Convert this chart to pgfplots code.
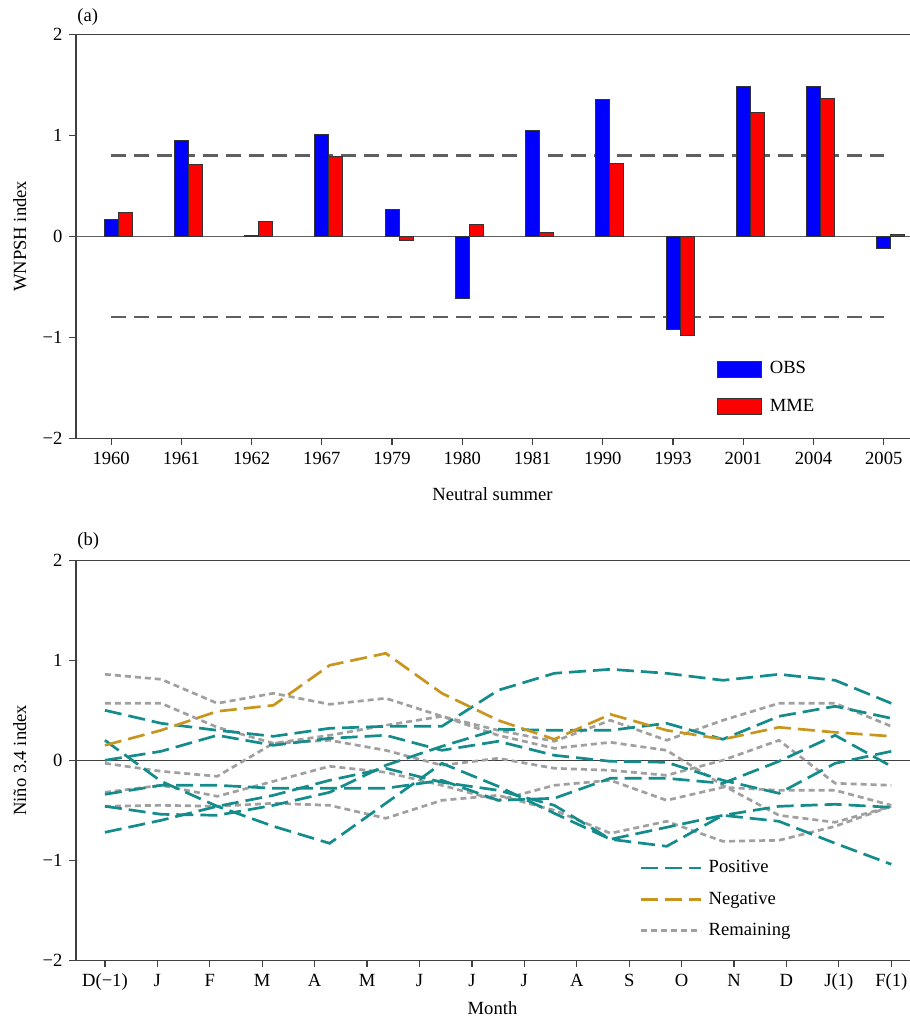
\documentclass[border=0pt]{standalone}
\usepackage{fontspec}
\setmainfont{Liberation Serif}
\usepackage{pgfplots}
\usepackage{pgfplotstable}
\pgfplotsset{compat=1.18}
\definecolor{obsblue}{RGB}{0,0,255}
\definecolor{mmered}{RGB}{255,0,0}
\definecolor{tealc}{RGB}{20,140,140}
\definecolor{goldc}{RGB}{200,150,30}
\definecolor{grayc}{RGB}{160,160,160}
\definecolor{refc}{RGB}{95,95,95}

\pgfplotstableread{
x       t1    t2    t3    t4    t5    t6    g1    g2    g3    g4    g5    n
0       0.50  0.00 -0.46 -0.34  0.20 -0.72  0.86  0.57 -0.03 -0.32 -0.46  0.15
1.0714  0.37  0.09 -0.54 -0.25 -0.21 -0.60  0.81  0.57 -0.11 -0.25 -0.45  0.30
2.1429  0.30  0.25 -0.55 -0.25 -0.46 -0.46  0.57  0.33 -0.16 -0.36 -0.46  0.49
3.2143  0.24  0.15 -0.45 -0.28 -0.66 -0.35  0.67  0.17  0.17 -0.21 -0.43  0.55
4.2857  0.32  0.22 -0.32 -0.28 -0.83 -0.20  0.56  0.25  0.20 -0.06 -0.45  0.95
5.3571  0.34  0.25 -0.05 -0.28 -0.43 -0.08  0.62  0.35  0.10 -0.12 -0.58  1.07
6.4286  0.34  0.10  0.14 -0.20 -0.03 -0.22  0.44  0.44 -0.05 -0.25 -0.40  0.67
7.5     0.70  0.19  0.31 -0.40 -0.26 -0.30  0.30  0.25  0.02 -0.40 -0.35  0.40
8.5714  0.87  0.05  0.30 -0.38 -0.53 -0.45  0.19  0.12 -0.08 -0.25 -0.50  0.21
9.6429  0.91 -0.01  0.30 -0.18 -0.79 -0.79  0.40  0.18 -0.10 -0.20 -0.73  0.46
10.7143 0.87 -0.02  0.37 -0.18 -0.86 -0.67  0.20  0.10 -0.15 -0.40 -0.61  0.30
11.7857 0.80 -0.20  0.21 -0.23 -0.55 -0.55  0.40 -0.25  0.00 -0.27 -0.81  0.21
12.8571 0.86 -0.33  0.44 -0.01 -0.61 -0.46  0.57 -0.55  0.20 -0.30 -0.80  0.33
13.9286 0.80 -0.03  0.54  0.25 -0.83 -0.44  0.57 -0.62 -0.23 -0.30 -0.66  0.28
15      0.57  0.09  0.42 -0.06 -1.04 -0.47  0.34 -0.46 -0.25 -0.45 -0.46  0.24
}\lines

\pgfplotsset{
  myaxis/.style={
    scale only axis, width=417.5pt, clip=false,
    tick align=outside, xtick pos=left, ytick pos=left,
    major tick length=3.5pt,
    axis line style={draw=black!75, line width=0.6pt},
    every tick/.style={draw=black!75, line width=0.6pt},
    ymin=-2, ymax=2,
    ytick={-2,-1,0,1,2}, yticklabels={−2,−1,0,1,2},
    ticklabel style={font=\fontsize{9.3}{11}\selectfont},
    label style={font=\fontsize{9.3}{11}\selectfont},
    legend style={draw=none, fill=none, font=\fontsize{9.3}{11}\selectfont},
    legend cell align=left,
  },
  tealline/.style={tealc, line width=1.35pt, dash pattern=on 8.5pt off 3.5pt},
  goldline/.style={goldc, line width=1.35pt, dash pattern=on 8.5pt off 3.5pt},
  grayline/.style={grayc, line width=1.35pt, dash pattern=on 3pt off 2pt},
}

\begin{document}
\fontsize{9.3}{11}\selectfont
\begin{tikzpicture}
\useasboundingbox (-38pt,-290.85pt) rectangle (416.5pt,219.15pt);

% ---------- panel (a)
\begin{axis}[myaxis,
  at={(0pt,0pt)}, anchor=south west, height=202pt,
  xmin=-0.5, xmax=11.388,
  xtick={0,...,11},
  xticklabels={1960,1961,1962,1967,1979,1980,1981,1990,1993,2001,2004,2005},
  xlabel={Neutral summer}, ylabel={WNPSH index},
  xlabel style={at={(axis description cs:0.4988,-0.1393)}, anchor=center},
  ylabel style={at={(axis description cs:-0.0672,0.5)}, anchor=center},
  legend style={at={(axis description cs:0.767,0.049)}, anchor=south west,
    row sep=7.25pt, inner sep=0pt},
]
\addplot[refc, line width=0.5pt, solid, forget plot] coordinates {(-0.5,0) (11.388,0)};
\addplot[refc, line width=1.1pt, dash pattern=on 7.5pt off 4pt, forget plot] coordinates {(0,0.8) (11,0.8)};
\addplot[refc, line width=1.1pt, dash pattern=on 7.5pt off 4pt, forget plot] coordinates {(0,-0.8) (11,-0.8)};
\addplot[ybar, bar width=0.2, bar shift=0pt, fill=obsblue, draw=black!80, line width=0.5pt,
  legend image code/.code={\draw[fill=obsblue, draw=black!80, line width=0.5pt] (0pt,-4pt) rectangle (22pt,4pt);}]
  coordinates {(0,0.165) (1,0.95) (2,0.005) (3,1.01) (4,0.265) (5,-0.62)
               (6,1.05) (7,1.356) (8,-0.92) (9,1.48) (10,1.48) (11,-0.123)};
\addlegendentry{\hspace{2pt}OBS}
\addplot[ybar, bar width=0.2, bar shift=0pt, fill=mmered, draw=black!80, line width=0.5pt,
  legend image code/.code={\draw[fill=mmered, draw=black!80, line width=0.5pt] (0pt,-4pt) rectangle (22pt,4pt);}]
  coordinates {(0.2,0.24) (1.2,0.71) (2.2,0.15) (3.2,0.79) (4.2,-0.04) (5.2,0.113)
               (6.2,0.033) (7.2,0.724) (8.2,-0.987) (9.2,1.226) (10.2,1.362) (11.2,0.016)};
\addlegendentry{\hspace{2pt}MME}
\node[anchor=west, inner sep=0pt] at (rel axis cs:0,1) [yshift=8.8pt, xshift=0.5pt] {(a)};
\end{axis}

% ---------- panel (b)
\begin{axis}[myaxis,
  at={(0pt,-261pt)}, anchor=south west, height=200pt,
  xmin=-0.552, xmax=15.376,
  xtick={0,...,15},
  xticklabels={D(−1),J,F,M,A,M,J,J,J,A,S,O,N,D,J(1),F(1)},
  xlabel={Month}, ylabel={Niño 3.4 index},
  xlabel style={at={(axis description cs:0.4988,-0.12)}, anchor=center},
  ylabel style={at={(axis description cs:-0.0672,0.5)}, anchor=center},
  legend style={at={(axis description cs:0.675,0.045)}, anchor=south west,
    row sep=4pt, inner sep=0pt},
  legend image code/.code={\draw[#1] (0pt,0pt) -- (30pt,0pt);},
]
\addlegendimage{tealline}\addlegendentry{\hspace{1pt}Positive}
\addlegendimage{goldline}\addlegendentry{\hspace{1pt}Negative}
\addlegendimage{grayline}\addlegendentry{\hspace{1pt}Remaining}
\addplot[black!75, line width=0.5pt, forget plot] coordinates {(-0.552,0) (15.376,0)};
\addplot[grayline, forget plot] table[x=x, y=g1] {\lines};
\addplot[grayline, forget plot] table[x=x, y=g2] {\lines};
\addplot[grayline, forget plot] table[x=x, y=g3] {\lines};
\addplot[grayline, forget plot] table[x=x, y=g4] {\lines};
\addplot[grayline, forget plot] table[x=x, y=g5] {\lines};
\addplot[tealline, forget plot] table[x=x, y=t1] {\lines};
\addplot[tealline, forget plot] table[x=x, y=t2] {\lines};
\addplot[tealline, forget plot] table[x=x, y=t3] {\lines};
\addplot[tealline, forget plot] table[x=x, y=t4] {\lines};
\addplot[tealline, forget plot] table[x=x, y=t5] {\lines};
\addplot[tealline, forget plot] table[x=x, y=t6] {\lines};
\addplot[goldline, forget plot] table[x=x, y=n] {\lines};
\node[anchor=west, inner sep=0pt] at (rel axis cs:0,1) [yshift=9.5pt, xshift=0.5pt] {(b)};
\end{axis}
\end{tikzpicture}
\end{document}
